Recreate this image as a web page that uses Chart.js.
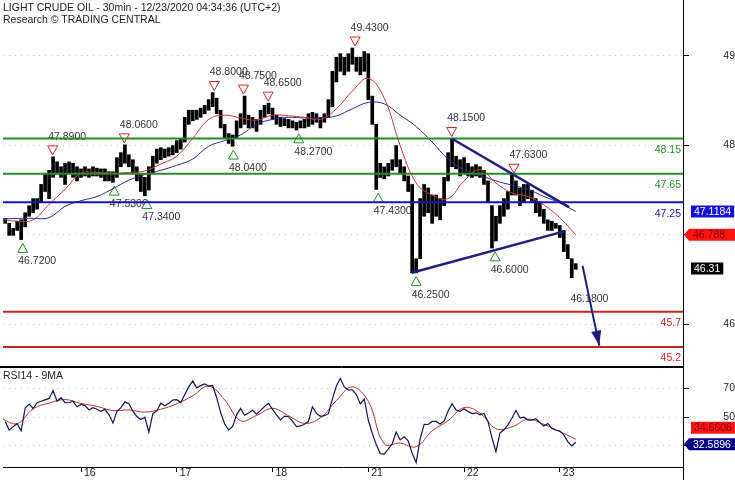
<!DOCTYPE html>
<html>
<head>
<meta charset="utf-8">
<script src="https://cdn.jsdelivr.net/npm/chart.js@4.4.1/dist/chart.umd.min.js"></script>
<style>
  body { margin: 0; background: #fff; }
  #wrap { position: relative; width: 735px; height: 480px; overflow: hidden;
          font-family: "Liberation Sans", Arial, sans-serif; font-size: 10.5px; color: #222; }
  #priceCanvas { position: absolute; left: 0; top: 0; }
  #rsiCanvas { position: absolute; left: 0; top: 367px; }
  .txt { position: absolute; left: 3px; line-height: 12px; white-space: nowrap; }
</style>
</head>
<body>
<div id="wrap">
  <canvas id="priceCanvas" width="735" height="367"></canvas>
  <canvas id="rsiCanvas" width="735" height="113"></canvas>
  <div class="txt" style="top:1px">LIGHT CRUDE OIL - 30min - 12/23/2020 04:34:36 (UTC+2)</div>
  <div class="txt" style="top:13px">Research © TRADING CENTRAL</div>
  <div class="txt" style="top:369px">RSI14 - 9MA</div>
</div>
<script>
// Hours are counted from midnight of the 15th, weekend skipped (24 = start of the 16th)
const firstHour = 5;
const barLow = [
  46.95, 46.78, 46.78, 46.85, 46.72, 46.9, 47.05, 47.1, 47.15, 47.25,
  47.4, 47.3, 47.6, 47.65, 47.6, 47.5, 47.65, 47.6, 47.55, 47.6,
  47.62, 47.6, 47.62, 47.62, 47.6, 47.55, 47.55, 47.53, 47.6, 47.75,
  47.8, 47.75, 47.65, 47.55, 47.4, 47.34, 47.42, 47.65, 47.8, 47.85,
  47.88, 47.9, 47.92, 47.95, 48.0, 48.1, 48.35, 48.4, 48.42, 48.45,
  48.5, 48.55, 48.6, 48.5, 48.3, 48.15, 48.08, 48.04, 48.15, 48.3,
  48.35, 48.3, 48.3, 48.25, 48.35, 48.45, 48.5, 48.42, 48.35, 48.32,
  48.33, 48.3, 48.3, 48.27, 48.3, 48.3, 48.32, 48.35, 48.38, 48.3,
  48.38, 48.45, 48.6, 48.95, 49.1, 49.05, 49.1, 49.2, 49.1, 49.05,
  49.1, 48.7, 48.35, 47.43, 47.6, 47.58, 47.62, 47.7, 47.75, 47.65,
  47.55, 47.4, 46.25, 46.25, 46.45, 47.05, 47.1, 46.95, 47.05, 47.0,
  47.2, 47.55, 47.75, 47.72, 47.62, 47.65, 47.62, 47.6, 47.62, 47.6,
  47.5, 47.25, 46.6, 46.7, 46.95, 47.05, 47.15, 47.35, 47.35, 47.2,
  47.25, 47.3, 47.25, 47.1, 47.05, 46.95, 46.85, 46.85, 46.88, 46.75,
  46.55, 46.45, 46.18, 46.3
];
const barHigh = [
  47.02, 46.95, 46.88, 46.98, 47.0, 47.1, 47.2, 47.3, 47.3, 47.5,
  47.65, 47.7, 47.89, 47.82, 47.75, 47.8, 47.82, 47.8, 47.75, 47.72,
  47.75, 47.72, 47.75, 47.73, 47.72, 47.72, 47.68, 47.68, 47.88, 47.95,
  48.06, 47.92, 47.85, 47.75, 47.65, 47.6, 47.75, 47.9, 48.0, 48.02,
  48.0, 48.02, 48.05, 48.12, 48.15, 48.45, 48.55, 48.55, 48.55, 48.58,
  48.62, 48.7, 48.8, 48.72, 48.55, 48.35, 48.22, 48.2, 48.4, 48.5,
  48.75, 48.48, 48.45, 48.42, 48.55, 48.62, 48.65, 48.58, 48.48, 48.45,
  48.43, 48.42, 48.4, 48.38, 48.4, 48.42, 48.5, 48.52, 48.5, 48.45,
  48.5, 48.7, 49.1, 49.3, 49.35, 49.3, 49.35, 49.43, 49.3, 49.3,
  49.38, 49.35, 48.75, 48.35, 47.8, 47.75, 47.8, 47.85, 48.05, 47.85,
  47.75, 47.62, 47.5, 46.45, 47.3, 47.5, 47.45, 47.35, 47.35, 47.3,
  47.6, 47.95, 48.15, 47.9, 47.85, 47.88, 47.8, 47.75, 47.78, 47.75,
  47.7, 47.55, 47.2, 47.05, 47.2, 47.3, 47.4, 47.63, 47.55, 47.45,
  47.5, 47.5, 47.42, 47.3, 47.25, 47.15, 47.0, 46.98, 46.95, 46.92,
  46.85, 46.65, 46.45, 46.38
];
const lastClose = 46.31;

// moving averages sampled every 4 hours from hour 4
const maStart = 4;
const maStep = 4;
const redMA = [
  47.01, 46.98, 47.0, 47.22, 47.43, 47.66, 47.67, 47.66, 47.67, 47.69,
  47.79, 47.9, 48.15, 48.42, 48.48, 48.44, 48.41, 48.48, 48.47, 48.45,
  48.42, 48.57, 48.82, 49.0, 48.72, 48.05, 47.52, 47.35, 47.3, 47.55,
  47.71, 47.52, 47.38, 47.33, 47.21, 47.03, 46.788
];
const blueMA = [
  47.01, 47.02, 47.02, 47.03, 47.19, 47.27, 47.33, 47.44, 47.56, 47.64,
  47.7, 47.77, 47.86, 48.04, 48.12, 48.2, 48.35, 48.42, 48.45, 48.44,
  48.44, 48.47, 48.57, 48.66, 48.64, 48.48, 48.32, 48.1, 47.86, 47.71,
  47.63, 47.55, 47.49, 47.43, 47.33, 47.24, 47.1184
];

// RSI14, one value per bar, and its 9 period average
const rsi = [
  47, 41, 43.4, 45.5, 40.5, 56.3, 59, 56, 60, 61,
  62, 63, 68.5, 61, 63.5, 60, 60, 61, 57.2, 58.8,
  58, 55, 56.5, 55.5, 54.1, 55.4, 51.8, 46, 54, 56.6,
  60.6, 59.3, 54.2, 50.4, 48.3, 50, 39.5, 52.4, 54.3, 59.7,
  57.9, 59.6, 61.9, 62.1, 60.1, 65.7, 71, 75.1, 70.3, 71.9,
  73.1, 71.5, 72, 63.5, 53.2, 45.4, 41, 43.6, 51.6, 56.1,
  51.3, 52.9, 54.8, 52, 54.5, 57.5, 59.5, 55.4, 51.5, 48.1,
  50.7, 50.3, 47.3, 43.4, 43.9, 45.1, 47.1, 57.2, 52.6, 50.6,
  51, 52.4, 62.5, 71.6, 76.8, 71, 68.8, 69, 65.7, 59.2,
  62.5, 48, 38.7, 31, 24.7, 24.3, 27.8, 31.5, 39.6, 34.2,
  36.4, 33.5, 25, 18.5, 35, 45, 44.9, 47, 47, 45.2,
  47.2, 54.2, 59.3, 55, 54, 55.9, 54, 52.5, 53, 51.6,
  52.6, 47, 35.6, 26, 39, 41.2, 44.6, 49.2, 54.6, 49.5,
  50, 48, 48, 48.9, 46.2, 43.8, 45.6, 42.2, 41.1, 40.3,
  37.7, 33, 30, 32.5896
];
const rsiMA = [
  49, 45.5, 55.8, 59.8, 62.2, 59.5, 57.5, 54.5, 55, 53.5,
  55.5, 59.3, 64.8, 71.5, 62, 47.5, 51.2, 56.1, 51, 45.7,
  49.5, 61.5, 71, 61, 31.5, 32, 29.5, 40.5, 47.5, 56.6,
  52.8, 42, 43.2, 48.5, 45, 40, 34.6606
];

// axes
const dayTicks = [24, 48, 72, 96, 120, 144];
const dayLabels = ['16', '17', '18', '21', '22', '23'];
const priceTicks = [46, 47, 48, 49];
const rsiTicks = [30, 50, 70];

// horizontal support / resistance levels
const levelValues = [48.15, 47.65, 47.25, 45.7, 45.2];

// swing highs and lows
const highPivotHours = [16.9, 34.85, 57.4, 64.7, 70.9, 92.7, 116.9, 132.5];
const highPivotValues = [47.89, 48.06, 48.80, 48.75, 48.65, 49.43, 48.15, 47.63];
const lowPivotHours = [9.4, 32.35, 40.5, 62.2, 78.6, 98.5, 108.0, 127.8];
const lowPivotValues = [46.72, 47.53, 47.34, 48.04, 48.27, 47.43, 46.25, 46.60];
const openLowHours = [147.8];
const openLowValues = [46.18];

// drawn trend lines and target arrow
const downTrendHours = [116.9, 146.3];
const downTrendValues = [48.15, 47.18];
const upTrendHours = [106.9, 145.3];
const upTrendValues = [46.25, 46.84];
const targetHours = [149.7, 153.9];
const targetValues = [46.35, 45.22];

// ---- styling ----
const FONT_FAMILY = '"Liberation Sans", Arial, sans-serif';
const FONT = '10.5px ' + FONT_FAMILY;
const LEVEL_COLORS = ['#2a8a2a', '#2a8a2a', '#1616b8', '#c42626', '#c42626'];
const TREND = '#20207a';
const X_MIN = 4.45;
const X_MAX = 174.88;

const toPoints = (hours, values) => values.map((v, i) => ({ x: hours[i], y: v }));
const maPoints = arr => arr.map((v, i) => ({ x: maStart + i * maStep, y: v }));

function triangle(ctx, x, y, down, color) {
  const w = 5, h = 4.5;
  ctx.beginPath();
  if (down) {
    ctx.moveTo(x - w, y - h); ctx.lineTo(x + w, y - h); ctx.lineTo(x, y + h);
  } else {
    ctx.moveTo(x - w, y + h); ctx.lineTo(x + w, y + h); ctx.lineTo(x, y - h);
  }
  ctx.closePath();
  ctx.fillStyle = '#fff';
  ctx.fill();
  ctx.lineWidth = 1;
  ctx.strokeStyle = color;
  ctx.stroke();
}

// value tag on the right axis, optionally with a pointer to the axis line
function tag(ctx, axisX, y, text, bg, fg, pointer) {
  ctx.font = FONT;
  const tw = ctx.measureText(text).width;
  const w = pointer ? tw + 14 : tw + 6;
  const h = 12;
  const left = axisX + (pointer ? 6 : 8);
  ctx.fillStyle = bg;
  ctx.beginPath();
  if (pointer) {
    ctx.moveTo(axisX + 1, y);
    ctx.lineTo(left, y - h / 2);
    ctx.lineTo(left + w, y - h / 2);
    ctx.lineTo(left + w, y + h / 2);
    ctx.lineTo(left, y + h / 2);
  } else {
    ctx.rect(left, y - h / 2, w, h);
  }
  ctx.closePath();
  ctx.fill();
  ctx.fillStyle = fg;
  ctx.textAlign = 'left';
  ctx.textBaseline = 'middle';
  ctx.fillText(text, left + (pointer ? 4 : 3), y + 0.5);
}

function line(ctx, x1, y1, x2, y2) {
  ctx.beginPath();
  ctx.moveTo(x1, y1);
  ctx.lineTo(x2, y2);
  ctx.stroke();
}

const priceDecor = {
  id: 'priceDecor',
  beforeDatasetsDraw(chart) {
    const { ctx, chartArea: area, scales: { x, y } } = chart;
    ctx.save();
    ctx.font = FONT;
    ctx.textBaseline = 'middle';

    ctx.textAlign = 'right';
    levelValues.forEach((v, i) => {
      ctx.fillStyle = LEVEL_COLORS[i];
      ctx.fillText(String(v), area.right - 2, y.getPixelForValue(v) + 11.5);
    });

    ctx.textAlign = 'left';
    ctx.fillStyle = '#333';
    highPivotHours.forEach((t, i) => {
      const py = y.getPixelForValue(highPivotValues[i]) - 6.5;
      ctx.fillText(highPivotValues[i].toFixed(4), x.getPixelForValue(t) - 4.5, py - 13.5);
    });
    lowPivotHours.forEach((t, i) => {
      const py = y.getPixelForValue(lowPivotValues[i]) + 8.3;
      ctx.fillText(lowPivotValues[i].toFixed(4), x.getPixelForValue(t) - 4.5, py + 13.5);
    });
    openLowHours.forEach((t, i) => {
      const py = y.getPixelForValue(openLowValues[i]) + 8.3;
      ctx.fillText(openLowValues[i].toFixed(4), x.getPixelForValue(t) - 4.5, py + 13.5);
    });

    highPivotHours.forEach((t, i) => {
      triangle(ctx, x.getPixelForValue(t), y.getPixelForValue(highPivotValues[i]) - 6.5, true, '#cc2a2a');
    });
    lowPivotHours.forEach((t, i) => {
      triangle(ctx, x.getPixelForValue(t), y.getPixelForValue(lowPivotValues[i]) + 8.3, false, '#2a8a2a');
    });
    ctx.restore();
  },
  afterDatasetsDraw(chart) {
    const { ctx, scales: { x, y } } = chart;
    // arrow head on the target line
    const x1 = x.getPixelForValue(targetHours[0]), y1 = y.getPixelForValue(targetValues[0]);
    const x2 = x.getPixelForValue(targetHours[1]), y2 = y.getPixelForValue(targetValues[1]);
    const a = Math.atan2(y2 - y1, x2 - x1);
    const len = 15, half = 5;
    const bx = x2 - len * Math.cos(a), by = y2 - len * Math.sin(a);
    ctx.save();
    ctx.fillStyle = TREND;
    ctx.beginPath();
    ctx.moveTo(x2, y2);
    ctx.lineTo(bx + half * Math.sin(a), by - half * Math.cos(a));
    ctx.lineTo(bx - half * Math.sin(a), by + half * Math.cos(a));
    ctx.closePath();
    ctx.fill();
    ctx.restore();
  },
  afterDraw(chart) {
    const { ctx, chartArea: area, scales: { y } } = chart;
    ctx.save();
    ctx.strokeStyle = '#000';
    ctx.lineWidth = 1;
    const ax = Math.round(area.right);
    line(ctx, 0, Math.round(area.bottom) - 0.5, ax + 0.5, Math.round(area.bottom) - 0.5);
    tag(ctx, ax, y.getPixelForValue(blueMA[blueMA.length - 1]), String(blueMA[blueMA.length - 1]), '#1212dc', '#fff', false);
    tag(ctx, ax, y.getPixelForValue(redMA[redMA.length - 1]), String(redMA[redMA.length - 1]), '#ff1414', '#7a0000', true);
    tag(ctx, ax, y.getPixelForValue(lastClose), String(lastClose), '#000', '#fff', false);
    ctx.restore();
  }
};

const rsiDecor = {
  id: 'rsiDecor',
  afterDraw(chart) {
    const { ctx, chartArea: area, scales: { y } } = chart;
    ctx.save();
    ctx.strokeStyle = '#000';
    ctx.lineWidth = 1;
    const ax = Math.round(area.right);
    line(ctx, 0, Math.round(area.top) + 0.5, ax + 0.5, Math.round(area.top) + 0.5);
    line(ctx, ax + 0.5, area.bottom, ax + 0.5, chart.height);
    const navyY = y.getPixelForValue(rsi[rsi.length - 1]) + 2;
    const redY = Math.min(y.getPixelForValue(rsiMA[rsiMA.length - 1]), navyY - 16.5);
    tag(ctx, ax, redY, String(rsiMA[rsiMA.length - 1]), '#ff1414', '#7a0000', false);
    tag(ctx, ax, navyY, String(rsi[rsi.length - 1]), '#000080', '#fff', true);
    ctx.restore();
  }
};

// keep the axes from reserving room for their end labels
const noEdgePadding = s => {
  s.paddingTop = 0; s.paddingBottom = 0; s.paddingLeft = 0; s.paddingRight = 0;
};

const rightAxis = (min, max, ticks) => ({
  type: 'linear',
  position: 'right',
  min: min,
  max: max,
  afterBuildTicks: s => { s.ticks = ticks.map(v => ({ value: v })); },
  afterFit: s => { s.width = 52; noEdgePadding(s); },
  grid: { color: '#c4c4c4', lineWidth: 1, tickColor: '#000', tickLength: 6 },
  border: { color: '#000', dash: [1, 5] },
  ticks: { font: { family: FONT_FAMILY, size: 10.5 }, color: '#222', crossAlign: 'far', padding: 30 }
});

const commonOptions = {
  responsive: false,
  animation: false,
  events: [],
  layout: { padding: { left: 3, right: 0, top: 0, bottom: 0 }, autoPadding: false },
  plugins: { legend: { display: false }, tooltip: { enabled: false } }
};

const lineSet = (data, color, width, order, extra) => Object.assign({
  type: 'line', data: data, borderColor: color, borderWidth: width,
  pointRadius: 0, fill: false, order: order
}, extra || {});

new Chart(document.getElementById('priceCanvas'), {
  type: 'bar',
  data: {
    datasets: [
      lineSet(toPoints(downTrendHours, downTrendValues), TREND, 2.5, 1),
      lineSet(toPoints(upTrendHours, upTrendValues), TREND, 2.5, 1),
      lineSet(toPoints(targetHours, targetValues), TREND, 2, 1),
      ...levelValues.map((v, i) => lineSet([{ x: X_MIN, y: v }, { x: X_MAX, y: v }], LEVEL_COLORS[i], 2, 2)),
      lineSet(maPoints(redMA), '#c43a3a', 1, 3, { tension: 0.4 }),
      lineSet(maPoints(blueMA), '#2b2b92', 1, 3, { tension: 0.4 }),
      {
        type: 'bar',
        data: barLow.map((lo, i) => ({ x: firstHour + i, y: [lo, barHigh[i]] })),
        backgroundColor: '#000',
        barThickness: 3,
        order: 4
      }
    ]
  },
  options: Object.assign({}, commonOptions, {
    scales: {
      x: { type: 'linear', min: X_MIN, max: X_MAX, offset: false, display: false },
      y: { type: 'linear', min: 44.918, max: 50.109, display: false },
      y2: rightAxis(45.522, 49.626, priceTicks)
    }
  }),
  plugins: [priceDecor]
});

new Chart(document.getElementById('rsiCanvas'), {
  type: 'line',
  data: {
    datasets: [
      lineSet(maPoints(rsiMA), '#b83232', 1, 2, { tension: 0.4 }),
      lineSet(rsi.map((v, i) => ({ x: firstHour + i, y: v })), '#141450', 1.2, 1)
    ]
  },
  options: Object.assign({}, commonOptions, {
    scales: {
      x: {
        type: 'linear', min: X_MIN, max: X_MAX, offset: false, position: 'bottom',
        afterBuildTicks: s => { s.ticks = dayTicks.map(v => ({ value: v })); },
        afterFit: s => { s.height = 13; noEdgePadding(s); },
        grid: { drawOnChartArea: false, drawTicks: true, tickLength: 5, color: '#000' },
        border: { color: '#000' },
        ticks: {
          callback: v => dayLabels[dayTicks.indexOf(v)],
          align: 'start', labelOffset: 3, padding: -5,
          autoSkip: false, maxRotation: 0,
          font: { family: FONT_FAMILY, size: 10.5 }, color: '#222'
        }
      },
      y: rightAxis(15.4, 84.8, rsiTicks)
    }
  }),
  plugins: [rsiDecor]
});
</script>
</body>
</html>
